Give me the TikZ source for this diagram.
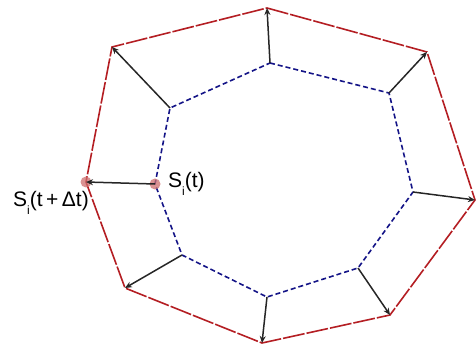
\documentclass[tikz,border=0pt]{standalone}
\usepackage{fontspec}
\setmainfont{Liberation Sans}
\usetikzlibrary{arrows.meta}
\definecolor{outerred}{RGB}{180,30,35}
\definecolor{innerblue}{RGB}{20,20,135}
\definecolor{dotpink}{RGB}{205,110,110}
\tikzset{
  outerline/.style={outerred, line width=1.6pt, dash pattern=on 22pt off 2pt},
  innerline/.style={innerblue, line width=1.6pt, dash pattern=on 5pt off 3pt},
  movearrow/.style={black!85, line width=1.5pt, -{Stealth[length=7pt,width=6pt]}},
  pointdot/.style={circle, fill=dotpink, opacity=0.75, minimum size=11pt, inner sep=0pt},
  lab/.style={inner sep=0pt, font=\fontsize{21}{24}\selectfont}
}
\newcommand{\subi}{\raisebox{-8pt}{\fontsize{12}{12}\selectfont i}}
\begin{document}
\begin{tikzpicture}[x=1pt,y=-1pt]
\useasboundingbox (0,0) rectangle (476,347);
% outer (red) vertices
\coordinate (r1) at (267,8);
\coordinate (r2) at (427,52);
\coordinate (r3) at (475,200);
\coordinate (r4) at (390,315);
\coordinate (r5) at (262,343);
\coordinate (r6) at (125,288);
\coordinate (r7) at (86,182);
\coordinate (r8) at (112,47);
% inner (blue) vertices
\coordinate (b1) at (270,63);
\coordinate (b2) at (389,93);
\coordinate (b3) at (413,192);
\coordinate (b4) at (358,268);
\coordinate (b5) at (267,297);
\coordinate (b6) at (182,255);
\coordinate (b7) at (155,184);
\coordinate (b8) at (170,108);
\draw[outerline] (r1) -- (r2) -- (r3) -- (r4) -- (r5) -- (r6) -- (r7) -- (r8) -- cycle;
\draw[innerline] (b1) -- (b2) -- (b3) -- (b4) -- (b5) -- (b6) -- (b7) -- (b8) -- cycle;
\node[pointdot] (d1) at (r7) {};
\node[pointdot] (d2) at (b7) {};
\foreach \i in {1,2,3,4,5,6,7,8}{\draw[movearrow] (b\i) -- (r\i);}
\node[lab, anchor=base west] (lt) at (168,188) {S\subi(t)};
\node[lab, anchor=base west] (ldt) at (13,207) {S\subi(t\,+\,Δt)};
\end{tikzpicture}
\end{document}
